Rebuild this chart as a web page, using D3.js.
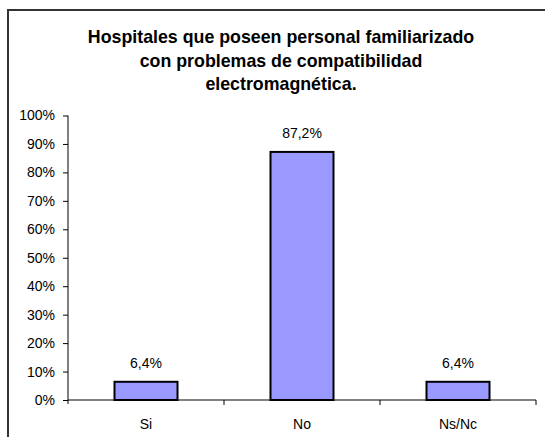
<!DOCTYPE html>
<html>
<head>
<meta charset="utf-8">
<script src="https://cdn.jsdelivr.net/npm/d3@7"></script>
<style>
  body { margin: 0; background: #fff; }
  svg { display: block; font-family: "Liberation Sans", Arial, sans-serif; }
</style>
</head>
<body>
<svg width="545" height="437"></svg>
<script>
// chart data
var categories = ['Si', 'No', 'Ns/Nc'];
var values = [6.4, 87.2, 6.4];
var valueLabels = ['6,4%', '87,2%', '6,4%'];
var yTicks = [0, 10, 20, 30, 40, 50, 60, 70, 80, 90, 100];
var titleLines = ['Hospitales que poseen personal familiarizado',
                  'con problemas de compatibilidad',
                  'electromagnética.'];

var svg = d3.select('svg');

// outer frame (only top and left show, the rest is cut off)
svg.append('path')
    .attr('d', 'M8,437 L8,10 L545,10')
    .attr('fill', 'none')
    .attr('stroke', '#333')
    .attr('stroke-width', 2);

svg.selectAll('text.title')
    .data(titleLines)
    .enter().append('text')
    .attr('class', 'title')
    .attr('x', 281)
    .attr('y', function(d, i){ return 43 + i * 23.5; })
    .attr('text-anchor', 'middle')
    .style('font-size', '17.8px')
    .style('font-weight', 'bold')
    .text(function(d){ return d; });

var plotLeft = 68, plotRight = 536, plotTop = 115.5, plotBottom = 400;

var x = d3.scaleBand()
    .domain(categories)
    .range([plotLeft, plotRight])
    .paddingInner(0)
    .paddingOuter(0);

var y = d3.scaleLinear()
    .domain([0, 100])
    .range([plotBottom, plotTop]);

var yAxis = d3.axisLeft(y)
    .tickValues(yTicks)
    .tickSize(5)
    .tickSizeOuter(0)
    .tickFormat(function(d){ return d + '%'; });

var gy = svg.append('g')
    .attr('transform', 'translate(' + plotLeft + ',0)')
    .call(yAxis);
gy.select('.domain').attr('stroke', '#000').attr('d', 'M0,' + plotTop + 'V' + (plotBottom + 4));
gy.selectAll('.tick line').attr('stroke', '#000');
gy.selectAll('.tick text')
    .attr('x', -13)
    .style('font-size', '14px')
    .style('font-family', '"Liberation Sans", Arial, sans-serif')
    .attr('fill', '#000');

// x axis line with ticks at category boundaries
svg.append('line')
    .attr('x1', plotLeft).attr('x2', plotRight)
    .attr('y1', plotBottom).attr('y2', plotBottom)
    .attr('stroke', '#000');

svg.selectAll('line.xtick')
    .data(categories)
    .enter().append('line')
    .attr('class', 'xtick')
    .attr('x1', function(d){ return x(d) + x.bandwidth(); })
    .attr('x2', function(d){ return x(d) + x.bandwidth(); })
    .attr('y1', plotBottom)
    .attr('y2', plotBottom + 5)
    .attr('stroke', '#000');

svg.selectAll('text.xlabel')
    .data(categories)
    .enter().append('text')
    .attr('class', 'xlabel')
    .attr('x', function(d){ return x(d) + x.bandwidth() / 2; })
    .attr('y', plotBottom + 29)
    .attr('text-anchor', 'middle')
    .style('font-size', '14px')
    .text(function(d){ return d; });

var barW = 63;

svg.selectAll('rect.bar')
    .data(values)
    .enter().append('rect')
    .attr('class', 'bar')
    .attr('x', function(d, i){ return x(categories[i]) + x.bandwidth() / 2 - barW / 2; })
    .attr('y', function(d){ return y(d); })
    .attr('width', barW)
    .attr('height', function(d){ return plotBottom - y(d); })
    .attr('fill', '#9999ff')
    .attr('stroke', '#000')
    .attr('stroke-width', 2);

svg.selectAll('text.vlabel')
    .data(values)
    .enter().append('text')
    .attr('class', 'vlabel')
    .attr('x', function(d, i){ return x(categories[i]) + x.bandwidth() / 2; })
    .attr('y', function(d){ return y(d) - 14; })
    .attr('text-anchor', 'middle')
    .style('font-size', '14px')
    .text(function(d, i){ return valueLabels[i]; });
</script>
</body>
</html>
